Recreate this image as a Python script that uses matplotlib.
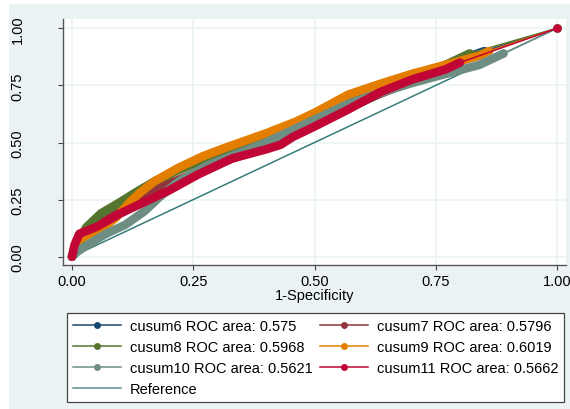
"""ROC curves for cusum6..cusum11 against reference line (Stata s2color look)."""
import matplotlib; matplotlib.use('Agg')
import matplotlib.pyplot as plt
from matplotlib.lines import Line2D

plt.rcParams['font.family'] = ['Liberation Sans', 'DejaVu Sans']

# 1-specificity / sensitivity points
cusum6_x  = [0, 0.01, 0.03, 0.06, 0.10, 0.15, 0.20, 0.26, 0.33, 0.40, 0.46, 0.52, 0.58, 0.64, 0.70, 0.76, 0.81, 0.85, 1]
cusum6_y  = [0, 0.06, 0.10, 0.14, 0.19, 0.25, 0.30, 0.37, 0.43, 0.48, 0.54, 0.60, 0.66, 0.72, 0.77, 0.82, 0.87, 0.90, 1]
cusum7_x  = [0, 0.01, 0.03, 0.06, 0.10, 0.15, 0.20, 0.27, 0.34, 0.41, 0.48, 0.55, 0.62, 0.69, 0.76, 0.83, 1]
cusum7_y  = [0, 0.07, 0.12, 0.16, 0.21, 0.27, 0.32, 0.38, 0.44, 0.50, 0.56, 0.63, 0.70, 0.76, 0.82, 0.88, 1]
cusum8_x  = [0, 0.01, 0.03, 0.06, 0.10, 0.13, 0.17, 0.22, 0.28, 0.35, 0.42, 0.49, 0.56, 0.63, 0.70, 0.77, 0.82, 1]
cusum8_y  = [0, 0.06, 0.13, 0.19, 0.24, 0.28, 0.33, 0.38, 0.43, 0.48, 0.54, 0.60, 0.67, 0.73, 0.78, 0.84, 0.89, 1]
cusum9_x  = [0, 0.01, 0.03, 0.06, 0.09, 0.12, 0.14, 0.17, 0.22, 0.27, 0.32, 0.40, 0.46, 0.50, 0.57, 0.64, 0.70, 0.77, 0.84, 0.86, 1]
cusum9_y  = [0, 0.04, 0.08, 0.12, 0.17, 0.24, 0.28, 0.33, 0.39, 0.44, 0.48, 0.54, 0.59, 0.63, 0.71, 0.76, 0.80, 0.84, 0.88, 0.90, 1]
cusum10_x = [0, 0.01, 0.03, 0.07, 0.11, 0.15, 0.18, 0.22, 0.28, 0.34, 0.40, 0.46, 0.50, 0.57, 0.64, 0.70, 0.77, 0.84, 0.89, 1]
cusum10_y = [0, 0.02, 0.05, 0.10, 0.14, 0.20, 0.26, 0.33, 0.40, 0.45, 0.50, 0.56, 0.60, 0.67, 0.72, 0.76, 0.80, 0.84, 0.89, 1]
cusum11_x = [0, 0.005, 0.015, 0.05, 0.10, 0.14, 0.20, 0.26, 0.33, 0.40, 0.43, 0.456, 0.50, 0.57, 0.635, 0.70, 0.77, 0.80, 1]
cusum11_y = [0, 0.05, 0.10, 0.13, 0.19, 0.23, 0.29, 0.36, 0.43, 0.47, 0.49, 0.525, 0.57, 0.645, 0.72, 0.775, 0.82, 0.85, 1]

labels = ['cusum6 ROC area: 0.575', 'cusum7 ROC area: 0.5796', 'cusum8 ROC area: 0.5968',
          'cusum9 ROC area: 0.6019', 'cusum10 ROC area: 0.5621', 'cusum11 ROC area: 0.5662']
colors = ['#1A476F', '#90353B', '#55752F', '#E37E00', '#6E8E84', '#C10534']
ref_color = '#357C79'
ticks = [0, 0.25, 0.5, 0.75, 1]
ticklabels = ['0.00', '0.25', '0.50', '0.75', '1.00']

series = [(cusum6_x, cusum6_y), (cusum7_x, cusum7_y), (cusum8_x, cusum8_y),
          (cusum9_x, cusum9_y), (cusum10_x, cusum10_y), (cusum11_x, cusum11_y)]

W, H = 570, 410
fig = plt.figure(figsize=(W/100, H/100), dpi=100, facecolor='white')
bg = fig.add_axes([9/W, 0, 1-9/W, 1-5/H], zorder=-10)
bg.axis('off')
bg.add_patch(plt.Rectangle((0, 0), 1, 1, transform=bg.transAxes, facecolor='#EAF2F3', edgecolor='none'))
ax = fig.add_axes([63/W, 1-266/H, 503/W, 246/H], zorder=1)
ax.set_facecolor('white')

ax.plot([0, 1], [0, 1], color=ref_color, lw=1.1, zorder=2)
for i, ((x, y), c) in enumerate(zip(series, colors)):
    # dense marker band in the original -> thick line for the stepped part
    ax.plot(x[:-1], y[:-1], color=c, lw=6.2, solid_joinstyle='round',
            solid_capstyle='round', zorder=3+i)
    ax.plot(x[-2:], y[-2:], color=c, lw=1.1, zorder=3+i)
    ax.plot(x[-1:], y[-1:], 'o', color=c, ms=6, mec='none', zorder=3+i)

ax.set_xlim(-9/485, 494/485)
ax.set_ylim(-8.3/228.4, 237.7/228.4)
ax.set_xticks(ticks); ax.set_xticklabels(ticklabels, fontsize=10.5)
ax.set_yticks(ticks); ax.set_yticklabels(ticklabels, fontsize=10.5, rotation=90, va='center')
ax.tick_params(axis='both', direction='out', length=3.6, width=0.8, color='#444444')
ax.tick_params(axis='x', pad=3)
ax.tick_params(axis='y', pad=24)
ax.grid(True, color='#EAF2F3', lw=1.1)
ax.set_axisbelow(True)
for s in ['top', 'right']:
    ax.spines[s].set_visible(False)
for s in ['left', 'bottom']:
    ax.spines[s].set_color('#555555'); ax.spines[s].set_linewidth(1.0)
ax.set_xlabel('1-Specificity', fontsize=10.5, labelpad=0)

handles = [Line2D([], [], color=c, lw=1.1, marker='o', ms=5, mec='none') for c in colors]
ref_handle = Line2D([], [], color='#5E8F8C', lw=1.1)
# Stata fills the legend row by row; matplotlib fills by column
order = [0, 2, 4, 1, 3, 5]
h = [handles[k] for k in order[:3]] + [ref_handle] + [handles[k] for k in order[3:]]
l = [labels[k] for k in order[:3]] + ['Reference'] + [labels[k] for k in order[3:]]
leg = fig.legend(h, l, ncol=2, loc='upper left',
                 bbox_to_anchor=(67/W, 1-314/H), fontsize=10.5,
                 frameon=True, fancybox=False, edgecolor='#444444', framealpha=1,
                 handlelength=3.3, handletextpad=0.6, labelspacing=0.48, borderpad=0.4,
                 columnspacing=0.5, borderaxespad=0)
leg.get_frame().set_linewidth(0.9)

plt.savefig('out.png', dpi=100, facecolor='white')
